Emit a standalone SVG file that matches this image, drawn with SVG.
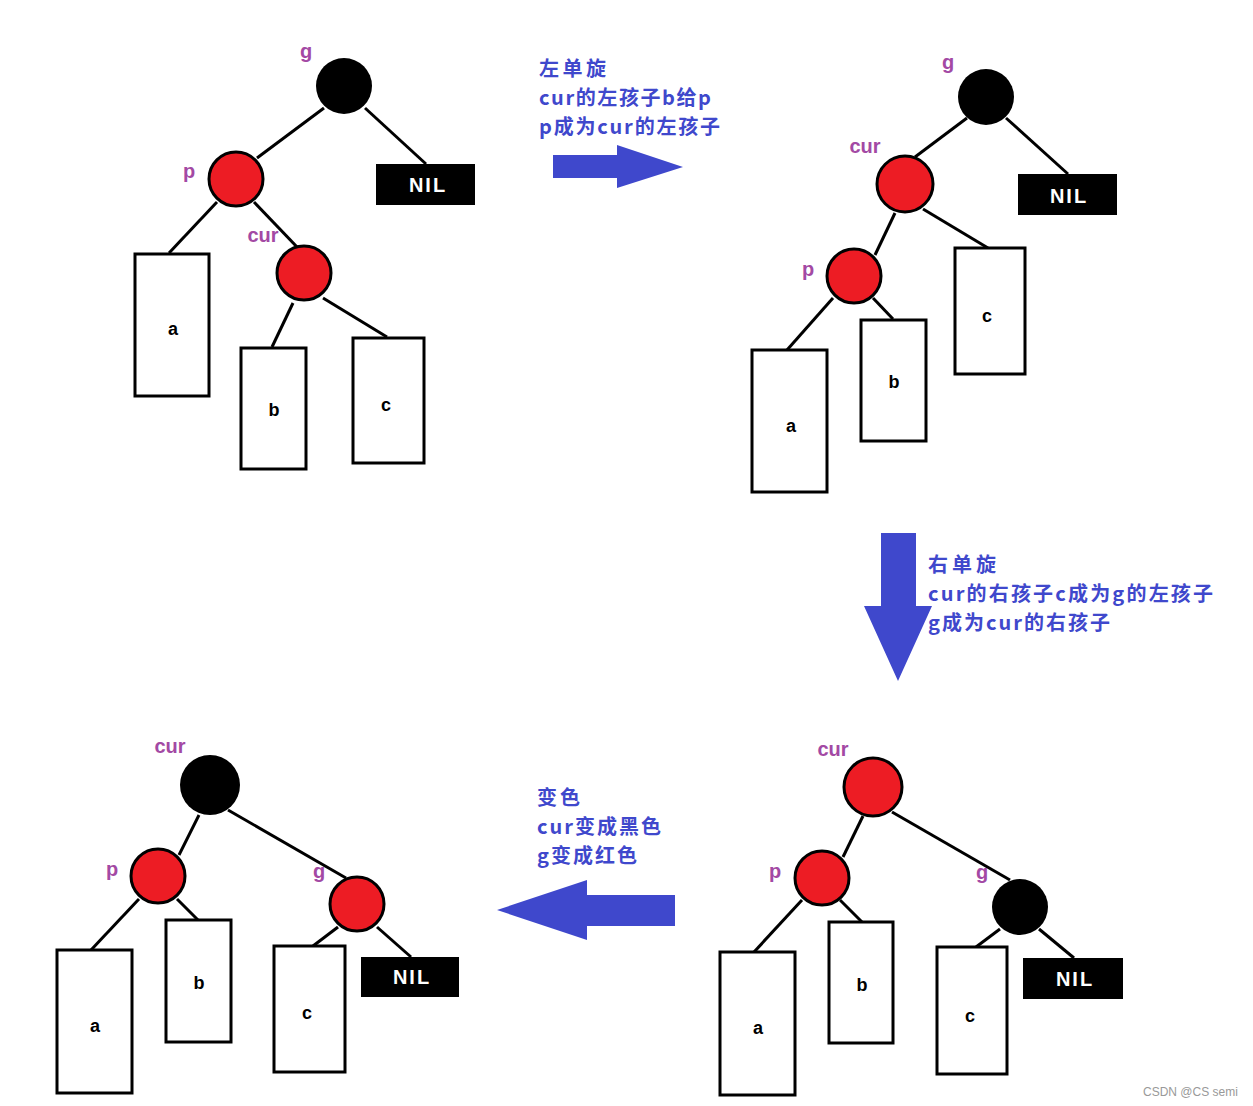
<svg xmlns="http://www.w3.org/2000/svg" width="1253" height="1106" viewBox="0 0 1253 1106">
<style>
.bg{fill:#fff}
.edge{stroke:#000;stroke-width:3;fill:none}
.red{fill:#ed1c24;stroke:#000;stroke-width:3}
.blk{fill:#000}
.box{fill:#fff;stroke:#000;stroke-width:3}
.nil{fill:#000}
.niltx{fill:#fff;font-family:"Liberation Sans",Arial,sans-serif;font-weight:bold;font-size:20px;letter-spacing:2px;text-anchor:middle}
.lbl{fill:#000;font-family:"Liberation Sans",Arial,sans-serif;font-weight:bold;font-size:18px;text-anchor:middle}
.tag{fill:#a349a4;font-family:"Liberation Sans",Arial,sans-serif;font-weight:bold;font-size:20px;text-anchor:middle}
.note{fill:#3f48cc;font-family:"Noto Sans CJK SC","Noto Sans",sans-serif;font-weight:bold;font-size:20px}
.arrow{fill:#3f48cc}
.wm{fill:#999;font-family:"Liberation Sans",Arial,sans-serif;font-size:12px}
</style>
<rect class="bg" x="0" y="0" width="1253" height="1106"/>

<g id="connectors">
  <!-- panel 1 -->
  <line class="edge" x1="324" y1="108" x2="257" y2="158"/>
  <line class="edge" x1="365" y1="108" x2="426" y2="164"/>
  <line class="edge" x1="217" y1="202" x2="169" y2="253"/>
  <line class="edge" x1="254" y1="202" x2="298" y2="248"/>
  <line class="edge" x1="293" y1="303" x2="272" y2="347"/>
  <line class="edge" x1="323" y1="298" x2="387" y2="337"/>
  <!-- panel 2 -->
  <line class="edge" x1="967" y1="118" x2="915" y2="157"/>
  <line class="edge" x1="1006" y1="118" x2="1068" y2="174"/>
  <line class="edge" x1="895" y1="213" x2="875" y2="255"/>
  <line class="edge" x1="923" y1="209" x2="988" y2="248"/>
  <line class="edge" x1="833" y1="298" x2="787" y2="350"/>
  <line class="edge" x1="873" y1="298" x2="893" y2="319"/>
  <!-- panel 3 -->
  <line class="edge" x1="199" y1="815" x2="179" y2="855"/>
  <line class="edge" x1="228" y1="810" x2="346" y2="878"/>
  <line class="edge" x1="139" y1="899" x2="91" y2="950"/>
  <line class="edge" x1="177" y1="899" x2="198" y2="920"/>
  <line class="edge" x1="338" y1="927" x2="313" y2="946"/>
  <line class="edge" x1="377" y1="927" x2="411" y2="957"/>
  <!-- panel 4 -->
  <line class="edge" x1="863" y1="816" x2="843" y2="857"/>
  <line class="edge" x1="892" y1="812" x2="1010" y2="880"/>
  <line class="edge" x1="802" y1="900" x2="754" y2="952"/>
  <line class="edge" x1="840" y1="900" x2="862" y2="922"/>
  <line class="edge" x1="1000" y1="929" x2="976" y2="947"/>
  <line class="edge" x1="1039" y1="929" x2="1074" y2="958"/>
</g>

<!-- Panel 1 -->
<g id="p1-g"><circle class="blk" cx="344" cy="86" r="28"/><text class="tag" x="306" y="58">g</text></g>
<g id="p1-p"><circle class="red" cx="236" cy="179" r="27"/><text class="tag" x="189" y="178">p</text></g>
<g id="p1-cur"><circle class="red" cx="304" cy="273" r="27"/><text class="tag" x="263" y="242">cur</text></g>
<g id="p1-nil"><rect class="nil" x="376" y="164" width="99" height="41"/><text class="niltx" x="428" y="192">NIL</text></g>
<g id="p1-a"><rect class="box" x="135" y="254" width="74" height="142"/><text class="lbl" x="173" y="335">a</text></g>
<g id="p1-b"><rect class="box" x="241" y="348" width="65" height="121"/><text class="lbl" x="274" y="416">b</text></g>
<g id="p1-c"><rect class="box" x="353" y="338" width="71" height="125"/><text class="lbl" x="386" y="411">c</text></g>

<!-- Panel 2 -->
<g id="p2-g"><circle class="blk" cx="986" cy="97" r="28"/><text class="tag" x="948" y="69">g</text></g>
<g id="p2-cur"><circle class="red" cx="905" cy="184" r="28"/><text class="tag" x="865" y="153">cur</text></g>
<g id="p2-nil"><rect class="nil" x="1018" y="174" width="99" height="41"/><text class="niltx" x="1069" y="203">NIL</text></g>
<g id="p2-p"><circle class="red" cx="854" cy="276" r="27"/><text class="tag" x="808" y="276">p</text></g>
<g id="p2-c"><rect class="box" x="955" y="248" width="70" height="126"/><text class="lbl" x="987" y="322">c</text></g>
<g id="p2-b"><rect class="box" x="861" y="320" width="65" height="121"/><text class="lbl" x="894" y="388">b</text></g>
<g id="p2-a"><rect class="box" x="752" y="350" width="75" height="142"/><text class="lbl" x="791" y="432">a</text></g>

<!-- Panel 3 -->
<g id="p3-cur"><circle class="blk" cx="210" cy="785" r="30"/><text class="tag" x="170" y="753">cur</text></g>
<g id="p3-p"><circle class="red" cx="158" cy="876" r="27"/><text class="tag" x="112" y="876">p</text></g>
<g id="p3-g"><circle class="red" cx="357" cy="904" r="27"/><text class="tag" x="319" y="878">g</text></g>
<g id="p3-a"><rect class="box" x="57" y="950" width="75" height="143"/><text class="lbl" x="95" y="1032">a</text></g>
<g id="p3-b"><rect class="box" x="166" y="920" width="65" height="122"/><text class="lbl" x="199" y="989">b</text></g>
<g id="p3-c"><rect class="box" x="274" y="946" width="71" height="126"/><text class="lbl" x="307" y="1019">c</text></g>
<g id="p3-nil"><rect class="nil" x="361" y="957" width="98" height="40"/><text class="niltx" x="412" y="984">NIL</text></g>

<!-- Panel 4 -->
<g id="p4-cur"><circle class="red" cx="873" cy="787" r="29"/><text class="tag" x="833" y="756">cur</text></g>
<g id="p4-p"><circle class="red" cx="822" cy="878" r="27"/><text class="tag" x="775" y="878">p</text></g>
<g id="p4-g"><circle class="blk" cx="1020" cy="907" r="28"/><text class="tag" x="982" y="879">g</text></g>
<g id="p4-a"><rect class="box" x="720" y="952" width="75" height="143"/><text class="lbl" x="758" y="1034">a</text></g>
<g id="p4-b"><rect class="box" x="829" y="922" width="64" height="121"/><text class="lbl" x="862" y="991">b</text></g>
<g id="p4-c"><rect class="box" x="937" y="947" width="70" height="127"/><text class="lbl" x="970" y="1022">c</text></g>
<g id="p4-nil"><rect class="nil" x="1023" y="958" width="100" height="41"/><text class="niltx" x="1075" y="986">NIL</text></g>

<!-- Step arrows and notes -->
<g id="step1">
  <polygon class="arrow" points="553,155 617,155 617,145 683,167 617,188 617,178 553,178"/>
  <text class="note" x="539" y="76" textLength="67" lengthAdjust="spacing">左单旋</text>
  <text class="note" x="539" y="105" textLength="172" lengthAdjust="spacing">cur的左孩子b给p</text>
  <text class="note" x="539" y="134" textLength="181" lengthAdjust="spacing">p成为cur的左孩子</text>
</g>
<g id="step2">
  <polygon class="arrow" points="881,533 916,533 916,606 932,606 898,681 864,606 881,606"/>
  <text class="note" x="928" y="572" textLength="68" lengthAdjust="spacing">右单旋</text>
  <text class="note" x="928" y="601" textLength="285" lengthAdjust="spacing">cur的右孩子c成为g的左孩子</text>
  <text class="note" x="928" y="630" textLength="182" lengthAdjust="spacing">g成为cur的右孩子</text>
</g>
<g id="step3">
  <polygon class="arrow" points="675,895 675,926 587,926 587,940 497,910 587,880 587,895"/>
  <text class="note" x="537" y="805" textLength="43" lengthAdjust="spacing">变色</text>
  <text class="note" x="537" y="834" textLength="124" lengthAdjust="spacing">cur变成黑色</text>
  <text class="note" x="537" y="863" textLength="100" lengthAdjust="spacing">g变成红色</text>
</g>

<text class="wm" x="1143" y="1096">CSDN @CS semi</text>
</svg>
